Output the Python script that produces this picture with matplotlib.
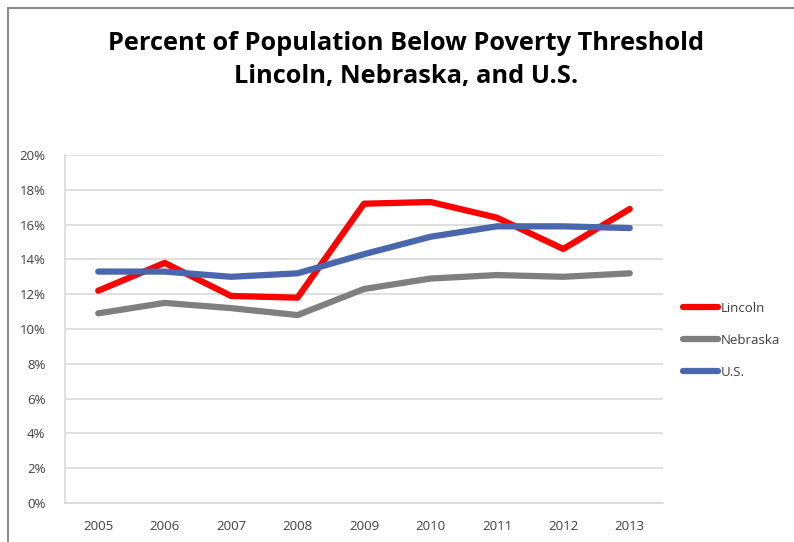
import numpy as np
import matplotlib
matplotlib.use("Agg")
from matplotlib import pyplot as plt
from matplotlib.patches import Rectangle
from matplotlib.ticker import PercentFormatter

years = ["2005", "2006", "2007", "2008", "2009", "2010", "2011", "2012", "2013"]
lincoln = [12.2, 13.8, 11.9, 11.8, 17.2, 17.3, 16.4, 14.6, 16.9]
nebraska = [10.9, 11.5, 11.2, 10.8, 12.3, 12.9, 13.1, 13.0, 13.2]
us = [13.3, 13.3, 13.0, 13.2, 14.3, 15.3, 15.9, 15.9, 15.8]

plt.rcParams['font.family'] = ['Open Sans', 'DejaVu Sans']

fig = plt.figure(figsize=(7.94, 5.42), dpi=100)
# chart border (cropped at right/bottom)
fig.patches.append(Rectangle((8/794, -0.1), 1.2, 1 - 8/542 + 0.1, transform=fig.transFigure,
                             fill=False, edgecolor="#8c8c8c", linewidth=1.5))

ax = fig.add_axes([65/794, 1 - 503/542, 598/794, 348/542])
x = np.arange(len(years))
ax.plot(x, lincoln, color="#ff0000", lw=4.5, label="Lincoln", solid_capstyle="round")
ax.plot(x, nebraska, color="#7f7f7f", lw=4.5, label="Nebraska", solid_capstyle="round")
ax.plot(x, us, color="#4a66ac", lw=4.5, label="U.S.", solid_capstyle="round")

ax.set_xlim(-0.5, len(years) - 0.5)
ax.set_ylim(0, 20)
ax.set_yticks(np.arange(0, 21, 2))
ax.yaxis.set_major_formatter(PercentFormatter(decimals=0))
ax.set_xticks(x)
ax.set_xticklabels(years)
ax.grid(axis="y", color="#d9d9d9", lw=1.2)
ax.set_axisbelow(True)
for s in ["top", "right"]:
    ax.spines[s].set_visible(False)
ax.spines["left"].set_color("#d9d9d9")
ax.spines["bottom"].set_color("#d9d9d9")
ax.spines["left"].set_linewidth(1.2)
ax.spines["bottom"].set_linewidth(1.2)
ax.tick_params(length=0, labelsize=9.5, labelcolor="#404040")
ax.tick_params(axis="x", pad=12)
ax.tick_params(axis="y", pad=14)

leg = ax.legend(loc="center left", bbox_to_anchor=(1.033, 0.468), frameon=False,
                fontsize=9.5, handlelength=2.7, handletextpad=0.15, labelspacing=1.45,
                borderpad=0, borderaxespad=0)
for t in leg.get_texts():
    t.set_color("#404040")

fig.text(406/794, 1 - 44/542, "Percent of Population Below Poverty Threshold",
         ha="center", va="center", fontsize=18.3, fontweight="bold")
fig.text(406/794, 1 - 77/542, "Lincoln, Nebraska, and U.S.",
         ha="center", va="center", fontsize=18.3, fontweight="bold")

fig.savefig("out.png", dpi=100)
